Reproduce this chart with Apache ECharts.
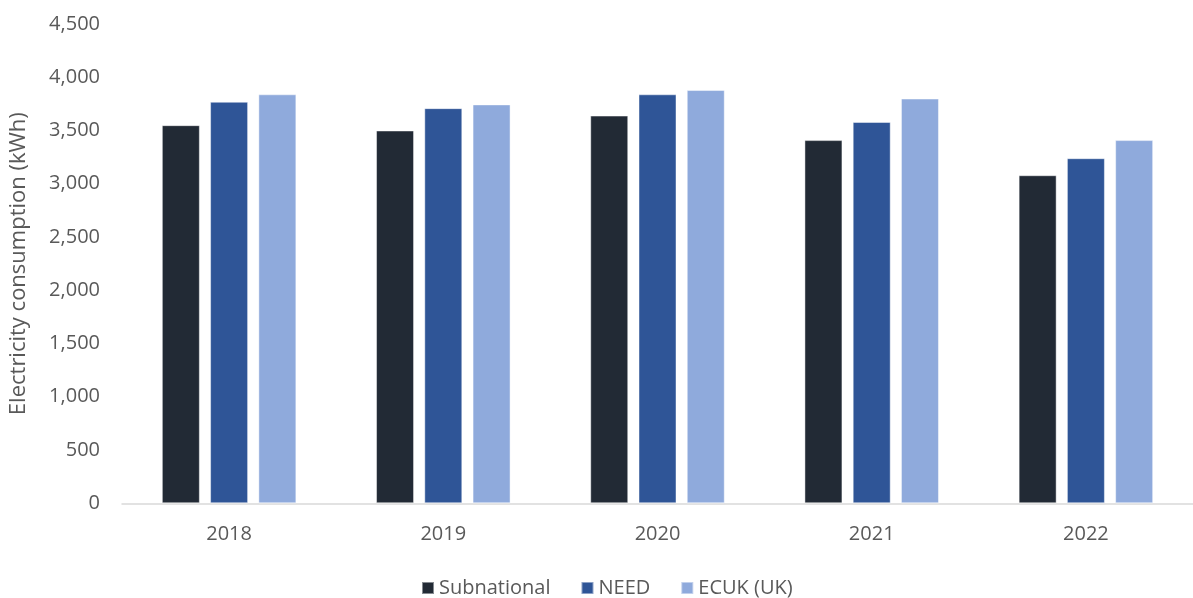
<!DOCTYPE html>
<html>
<head>
<meta charset="utf-8">
<script src="https://cdn.jsdelivr.net/npm/echarts@6/dist/echarts.min.js"></script>
<style>
  html, body { margin: 0; padding: 0; background: #fff; }
  #chart { width: 1193px; height: 598px; }
</style>
</head>
<body>
<div id="chart"></div>
<script>
const years = ["2018", "2019", "2020", "2021", "2022"];
const subnational = [3550, 3500, 3640, 3410, 3080];
const need = [3770, 3710, 3840, 3580, 3240];
const ecuk = [3840, 3745, 3880, 3800, 3410];

const font = "'Open Sans', 'Noto Sans', sans-serif";
const chart = echarts.init(document.getElementById("chart"));

const bar = (name, data, color) => ({
  name,
  type: "bar",
  data,
  barWidth: 38,
  barGap: "27%",
  itemStyle: { color, borderColor: "rgba(255,255,255,0.45)", borderWidth: 1 },
});

chart.setOption({
  animation: false,
  textStyle: { fontFamily: font },
  grid: { left: 122, top: 24, width: 1085, height: 479.3 },
  legend: {
    bottom: -5,
    left: 416,
    itemWidth: 12,
    itemHeight: 12,
    itemGap: 30,
    icon: "rect",
    textStyle: { color: "#595959", fontSize: 20, fontFamily: font },
    data: ["Subnational", "NEED", "ECUK (UK)"],
  },
  xAxis: {
    type: "category",
    data: years,
    axisLine: { lineStyle: { color: "#d9d9d9", width: 1.5 } },
    axisTick: { show: false },
    axisLabel: { color: "#595959", fontSize: 20, margin: 21 },
  },
  yAxis: {
    type: "value",
    min: 0,
    max: 4500,
    interval: 500,
    name: "Electricity consumption (kWh)",
    nameLocation: "middle",
    nameGap: 92,
    nameTextStyle: { color: "#595959", fontSize: 22, fontFamily: font },
    splitLine: { show: false },
    axisLine: { show: false },
    axisTick: { show: false },
    axisLabel: {
      color: "#595959",
      fontSize: 20,
      margin: 22,
      formatter: (v) => v.toLocaleString("en-US"),
    },
  },
  series: [
    bar("Subnational", subnational, "#222a35"),
    bar("NEED", need, "#2f5597"),
    bar("ECUK (UK)", ecuk, "#8faadc"),
  ],
});
</script>
</body>
</html>
